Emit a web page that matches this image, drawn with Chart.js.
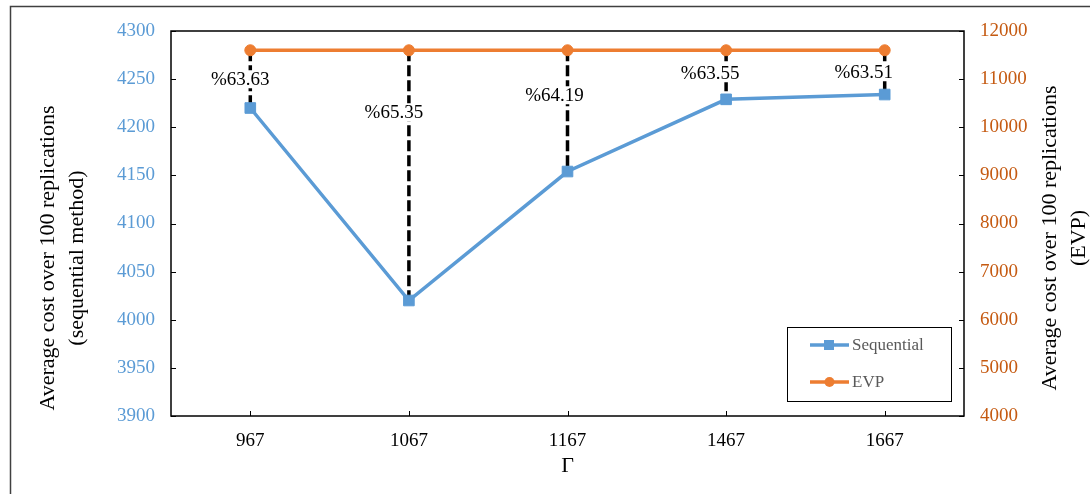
<!DOCTYPE html>
<html>
<head>
<meta charset="utf-8">
<script src="https://cdn.jsdelivr.net/npm/chart.js@4.4.0/dist/chart.umd.min.js"></script>
<style>
  html, body { margin: 0; padding: 0; background: #fff; }
  #wrap { position: relative; width: 1090px; height: 494px; }
</style>
</head>
<body>
<div id="wrap"><canvas id="costChart" width="1090" height="494"></canvas></div>
<script>
// chart data
const gammaLabels = ['967', '1067', '1167', '1467', '1667'];
const sequentialCost = [4220, 4020, 4154, 4229, 4234];
const evpCost = [11600, 11600, 11600, 11600, 11600];
const gapLabels = ['%63.63', '%65.35', '%64.19', '%63.55', '%63.51'];

const leftTitle = ['Average cost over 100 replications', '(sequential method)'];
const rightTitle = ['Average cost over 100 replications', '(EVP)'];
const xTitle = 'Γ';

const SERIF = '"Liberation Serif", "Times New Roman", serif';
const BLUE = '#5B9BD5';
const ORANGE = '#ED7D31';

// where each gap label sits, in px relative to the EVP point
const labelShift = [[-10, 29], [-15, 62], [-13, 45], [-16, 23], [-21, 22]];

const extrasPlugin = {
    id: 'extras',
    beforeDraw(chart) {
        const ctx = chart.ctx;
        ctx.save();
        ctx.strokeStyle = '#404040';
        ctx.lineWidth = 1.5;
        ctx.strokeRect(10.5, 6.5, 1200, 600);
        ctx.restore();
    },
    beforeDatasetsDraw(chart) {
        const ctx = chart.ctx;
        const x = chart.scales.x, y = chart.scales.y, y1 = chart.scales.y1;
        ctx.save();
        ctx.strokeStyle = '#000';
        ctx.lineWidth = 3.5;
        ctx.setLineDash([11, 4]);
        gammaLabels.forEach((g, i) => {
            const px = x.getPixelForValue(i);
            ctx.beginPath();
            ctx.moveTo(px, y1.getPixelForValue(evpCost[i]));
            ctx.lineTo(px, y.getPixelForValue(sequentialCost[i]));
            ctx.stroke();
        });
        ctx.restore();
    },
    afterDatasetsDraw(chart) {
        const ctx = chart.ctx;
        const a = chart.chartArea;
        const x = chart.scales.x, y = chart.scales.y, y1 = chart.scales.y1;
        ctx.save();

        // gap labels
        ctx.font = '19px ' + SERIF;
        ctx.textAlign = 'center';
        ctx.textBaseline = 'middle';
        gapLabels.forEach((t, i) => {
            const px = x.getPixelForValue(i) + labelShift[i][0];
            const py = y1.getPixelForValue(evpCost[i]) + labelShift[i][1];
            const w = ctx.measureText(t).width;
            ctx.fillStyle = '#fff';
            ctx.fillRect(px - w / 2 - 1, py - 9, w + 2, 18);
            ctx.fillStyle = '#000';
            ctx.fillText(t, px, py + 1);
        });

        // plot frame and inner ticks
        ctx.strokeStyle = '#000';
        ctx.lineWidth = 1.5;
        ctx.strokeRect(a.left, a.top, a.right - a.left, a.bottom - a.top);
        ctx.lineWidth = 1;
        ctx.beginPath();
        x.ticks.forEach((t, i) => {
            const px = Math.round(x.getPixelForTick(i)) + 0.5;
            ctx.moveTo(px, a.bottom);
            ctx.lineTo(px, a.bottom - 5);
        });
        y.ticks.forEach(t => {
            const py = Math.round(y.getPixelForValue(t.value)) + 0.5;
            ctx.moveTo(a.left, py);
            ctx.lineTo(a.left + 5, py);
        });
        y1.ticks.forEach(t => {
            const py = Math.round(y1.getPixelForValue(t.value)) + 0.5;
            ctx.moveTo(a.right, py);
            ctx.lineTo(a.right - 5, py);
        });
        ctx.stroke();

        // axis titles
        ctx.fillStyle = '#000';
        ctx.font = '22px ' + SERIF;
        ctx.textAlign = 'center';
        ctx.textBaseline = 'middle';
        const drawVertical = (lines, cx, cy) => {
            lines.forEach((line, i) => {
                ctx.save();
                ctx.translate(cx + i * 29, cy);
                ctx.rotate(-Math.PI / 2);
                ctx.fillText(line, 0, 0);
                ctx.restore();
            });
        };
        drawVertical(leftTitle, 48, 258);
        drawVertical(rightTitle, 1050, 238);
        ctx.fillText(xTitle, (a.left + a.right) / 2, 466);

        // legend
        const bx = a.right - 177, by = a.bottom - 89;
        ctx.lineWidth = 1;
        ctx.strokeRect(bx + 0.5, by + 0.5, 164, 74);
        ctx.font = '17px ' + SERIF;
        ctx.textAlign = 'left';
        chart.data.datasets.forEach((ds, i) => {
            const ly = by + 18 + i * 37;
            ctx.strokeStyle = ds.borderColor;
            ctx.lineWidth = 3.5;
            ctx.beginPath();
            ctx.moveTo(bx + 23, ly);
            ctx.lineTo(bx + 62, ly);
            ctx.stroke();
            ctx.fillStyle = ds.borderColor;
            if (ds.pointStyle === 'rect') {
                ctx.fillRect(bx + 37, ly - 5, 10, 10);
            } else {
                ctx.beginPath();
                ctx.arc(bx + 42.5, ly, 5, 0, Math.PI * 2);
                ctx.fill();
            }
            ctx.fillStyle = '#595959';
            ctx.fillText(ds.label, bx + 65, ly + 1);
        });
        ctx.restore();
    }
};

const tickFont = { family: SERIF, size: 19 };
const plainNumber = v => String(v);

new Chart(document.getElementById('costChart'), {
    type: 'line',
    data: {
        labels: gammaLabels,
        datasets: [{
            label: 'Sequential',
            data: sequentialCost,
            yAxisID: 'y',
            borderColor: BLUE,
            backgroundColor: BLUE,
            borderWidth: 3.5,
            pointStyle: 'rect',
            pointRadius: 7.5,
            pointBorderWidth: 1,
            tension: 0
        }, {
            label: 'EVP',
            data: evpCost,
            yAxisID: 'y1',
            borderColor: ORANGE,
            backgroundColor: ORANGE,
            borderWidth: 3.5,
            pointStyle: 'circle',
            pointRadius: 5.5,
            pointBorderWidth: 1,
            tension: 0
        }]
    },
    options: {
        responsive: false,
        animation: false,
        layout: { padding: { top: 31, left: 0, right: 0, bottom: 0 } },
        plugins: {
            legend: { display: false },
            tooltip: { enabled: false }
        },
        scales: {
            x: {
                offset: true,
                grid: { display: false },
                border: { display: false },
                ticks: { font: tickFont, color: '#000', padding: 6 },
                afterFit(s) { s.height = 78; }
            },
            y: {
                position: 'left',
                min: 3900,
                max: 4300,
                grid: { display: false },
                border: { display: false },
                ticks: { stepSize: 50, font: tickFont, color: BLUE, padding: 8, callback: plainNumber },
                afterFit(s) { s.width = 171; }
            },
            y1: {
                position: 'right',
                min: 4000,
                max: 12000,
                grid: { display: false },
                border: { display: false },
                ticks: { stepSize: 1000, font: tickFont, color: '#C55A11', padding: 8, callback: plainNumber },
                afterFit(s) { s.width = 126; }
            }
        }
    },
    plugins: [extrasPlugin]
});
</script>
</body>
</html>
